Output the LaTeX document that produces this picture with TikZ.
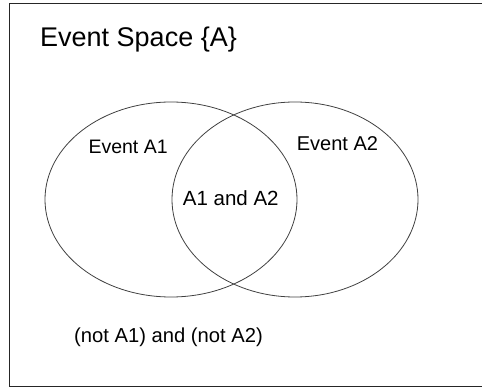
\documentclass[tikz,border=0pt]{standalone}
\usepackage{fontspec}
\setmainfont{Liberation Sans}
\begin{document}
\begin{tikzpicture}[x=1pt,y=-1pt,
  lbl/.style={inner sep=0pt,anchor=base west,text=black},
  venn/.style={draw=black!75,line width=0.8pt},
  frame/.style={draw=black!85,line width=1pt}]
\useasboundingbox (0,0) rectangle (482,387);
\coordinate (tr) at (483,4);
\coordinate (tl) at (9,4);
\coordinate (bl) at (9,386);
\coordinate (br) at (483,386);
\draw[frame] (tr) -- (tl) -- (bl) -- (br);
\coordinate (c1) at (171,199.5);
\coordinate (c2) at (295,199.5);
\draw[venn] (c1) ellipse [x radius=126pt, y radius=97.5pt];
\draw[venn] (c2) ellipse [x radius=123pt, y radius=97.5pt];
\node[lbl,font=\fontsize{27}{32}\selectfont] (title) at (40,46.7) {Event Space \{A\}};
\node[lbl,font=\fontsize{19.5}{23}\selectfont] (ea1) at (88.3,153.3) {Event A1};
\node[lbl,font=\fontsize{20}{24}\selectfont] (ea2) at (296.7,151) {Event A2};
\node[lbl,font=\fontsize{20.5}{24}\selectfont] (both) at (182.7,205.7) {A1 and A2};
\node[lbl,font=\fontsize{20.2}{24}\selectfont] (none) at (74,342.7) {(not A1) and (not A2)};
\end{tikzpicture}
\end{document}
